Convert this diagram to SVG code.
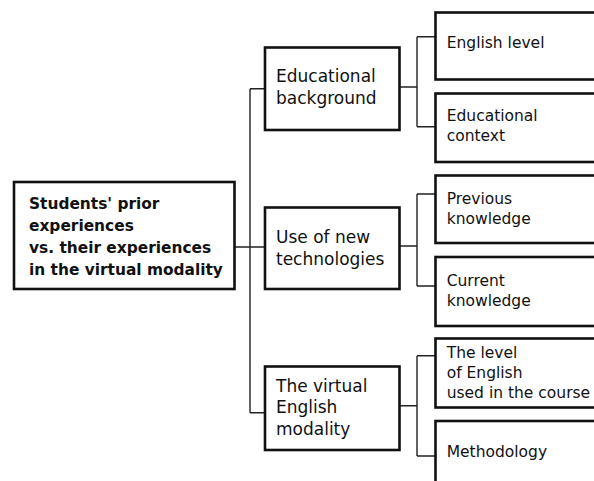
<svg xmlns="http://www.w3.org/2000/svg" width="594" height="481" viewBox="0 0 594 481">
<style>
.box{fill:#fff;stroke:#111;stroke-width:2.6}
.con{fill:none;stroke:#222;stroke-width:1.4}
text{font-family:"DejaVu Sans","Open Sans",sans-serif;fill:#111}
.root{font-weight:bold;font-size:15.4px}
.mid{font-size:17px}
.leaf{font-size:15.5px}
</style>
<rect width="594" height="481" fill="#fff"/>
<g id="connectors">
<path class="con" d="M235 247H265M250 88.7V412.7M250 88.7H265M250 412.7H265"/>
<path class="con" d="M399.5 87H417M417 36.7V126.7M417 36.7H435.5M417 126.7H435.5"/>
<path class="con" d="M399.5 246H417M417 194V286M417 194H435.5M417 286H435.5"/>
<path class="con" d="M399.5 405.7H417M417 355.7V456M417 355.7H435.5M417 456H435.5"/>
</g>
<g id="root">
<rect class="box" x="14" y="182" width="220.5" height="107"/>
<text class="root" x="29" y="208.5">Students' prior</text>
<text class="root" x="29" y="230.5">experiences</text>
<text class="root" x="29" y="252.5">vs. their experiences</text>
<text class="root" x="29" y="274.5">in the virtual modality</text>
</g>
<g id="educational-background">
<rect class="box" x="265" y="47.5" width="134.5" height="82.5"/>
<text class="mid" x="276" y="81.5">Educational</text>
<text class="mid" x="276" y="103.5">background</text>
</g>
<g id="use-of-new-technologies">
<rect class="box" x="265" y="207.5" width="134.5" height="81.5"/>
<text class="mid" x="276" y="243">Use of new</text>
<text class="mid" x="276" y="265">technologies</text>
</g>
<g id="virtual-english-modality">
<rect class="box" x="265" y="366.5" width="134.5" height="83.5"/>
<text class="mid" x="276" y="391.7">The virtual</text>
<text class="mid" x="276" y="413.4">English</text>
<text class="mid" x="276" y="435">modality</text>
</g>
<g id="english-level">
<rect class="box" x="435.5" y="12.5" width="170" height="67"/>
<text class="leaf" x="446.7" y="48.3">English level</text>
</g>
<g id="educational-context">
<rect class="box" x="435.5" y="93.5" width="170" height="68.5"/>
<text class="leaf" x="446.7" y="120.7">Educational</text>
<text class="leaf" x="446.7" y="140.7">context</text>
</g>
<g id="previous-knowledge">
<rect class="box" x="435.5" y="175.5" width="170" height="67.5"/>
<text class="leaf" x="446.7" y="204">Previous</text>
<text class="leaf" x="446.7" y="224">knowledge</text>
</g>
<g id="current-knowledge">
<rect class="box" x="435.5" y="257" width="170" height="69"/>
<text class="leaf" x="446.7" y="285.7">Current</text>
<text class="leaf" x="446.7" y="306">knowledge</text>
</g>
<g id="level-of-english">
<rect class="box" x="435.5" y="338.5" width="170" height="69"/>
<text class="leaf" x="446.7" y="358.3">The level</text>
<text class="leaf" x="446.7" y="378.3">of English</text>
<text class="leaf" x="446.7" y="398.3">used in the course</text>
</g>
<g id="methodology">
<rect class="box" x="435.5" y="421" width="170" height="80"/>
<text class="leaf" x="446.7" y="457">Methodology</text>
</g>
</svg>
